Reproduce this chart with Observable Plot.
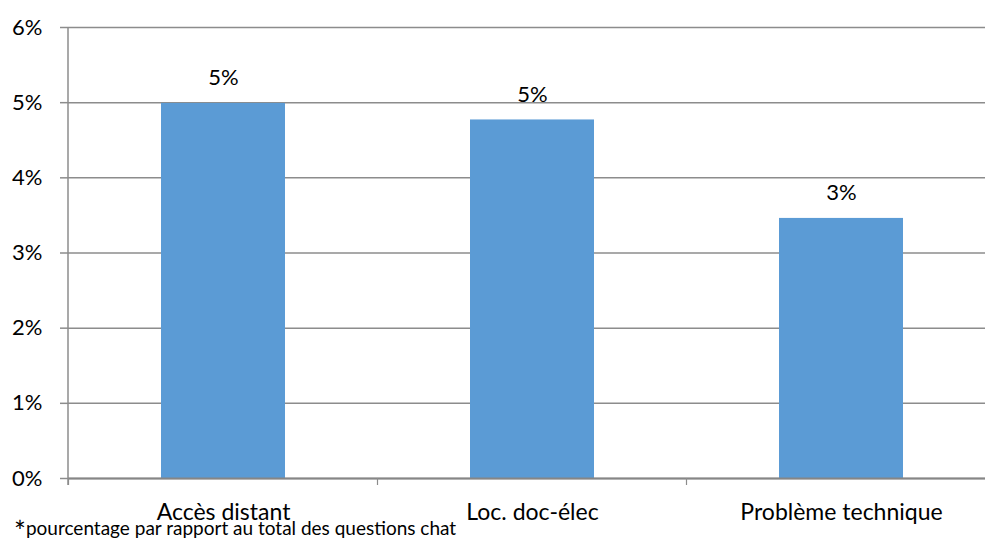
<!DOCTYPE html>
<html>
<head>
<meta charset="utf-8">
<script src="https://cdn.jsdelivr.net/npm/d3@7"></script>
<script src="https://cdn.jsdelivr.net/npm/@observablehq/plot@0.6"></script>
<style>
  html, body { margin: 0; padding: 0; background: #fff; overflow: hidden; }
  #wrap { position: relative; width: 985px; height: 540px; overflow: hidden; }
  #note { position: absolute; left: 14px; top: 517px; font-family: Lato, "Open Sans", sans-serif; color: #000; white-space: nowrap; line-height: 1; }
  #note .star { font-size: 28px; vertical-align: -7px; }
  #note .txt { font-size: 19px; }
</style>
</head>
<body>
<div id="wrap"><div id="note"><span class="star">*</span><span class="txt">pourcentage par rapport au total des questions chat</span></div></div>
<script>
const categories = ["Accès distant", "Loc. doc-élec", "Problème technique"];
const values = [4.99, 4.77, 3.46];
const yTicks = [0, 1, 2, 3, 4, 5, 6];

const data = categories.map((c, i) => ({category: c, value: values[i]}));
const gray = "#8c8c8c";
const font = "Lato, 'Open Sans', sans-serif";

function boundaryTicks(index, scales, vals, dims) {
  const x = scales.x, y = scales.y;
  const step = typeof x.step === "function" ? x.step() : scales.scales.x.step;
  const bw = typeof x.bandwidth === "function" ? x.bandwidth() : scales.scales.x.bandwidth;
  const y0 = y(0);
  const g = d3.create("svg:g");
  const xs = categories.map(c => x(c) + bw / 2 - step / 2);
  xs.push(x(categories[categories.length - 1]) + bw / 2 + step / 2);
  for (const px of xs) {
    g.append("line").attr("x1", px).attr("x2", px).attr("y1", y0).attr("y2", y0 + 7)
      .attr("stroke", gray).attr("stroke-width", 1.2);
  }
  g.append("line").attr("x1", dims.marginLeft).attr("x2", dims.marginLeft)
    .attr("y1", y(yTicks[yTicks.length - 1])).attr("y2", y0 + 7)
    .attr("stroke", gray).attr("stroke-width", 1.5);
  return g.node();
}

const plot = Plot.plot({
  width: 985,
  height: 540,
  marginTop: 27,
  marginBottom: 62,
  marginLeft: 68,
  marginRight: -10,
  style: {fontFamily: font, fontSize: "22px", color: "#000", background: "#fff", overflow: "visible"},
  x: {domain: categories, paddingInner: 0.6, paddingOuter: 0.3, label: null},
  y: {domain: [0, 6], label: null},
  marks: [
    Plot.ruleY(yTicks, {stroke: gray, strokeWidth: 1.5}),
    Plot.barY(data, {x: "category", y: "value", fill: "#5b9bd5"}),
    Plot.ruleY([0], {stroke: "#868686", strokeWidth: 1.8}),
    Plot.text(data, {x: "category", y: "value", text: d => Math.round(d.value) + "%", dy: -25, fontSize: 22, fill: "#000"}),
    Plot.axisY({ticks: yTicks, tickFormat: d => d + "%", tickSize: 8, tickPadding: 18, stroke: gray, strokeWidth: 1.5, fontSize: 22, fill: "#000"}),
    Plot.axisX({tickSize: 0, tickPadding: 25, fontSize: 23, fill: "#000"}),
    boundaryTicks
  ]
});
document.getElementById("wrap").prepend(plot);
</script>
</body>
</html>
